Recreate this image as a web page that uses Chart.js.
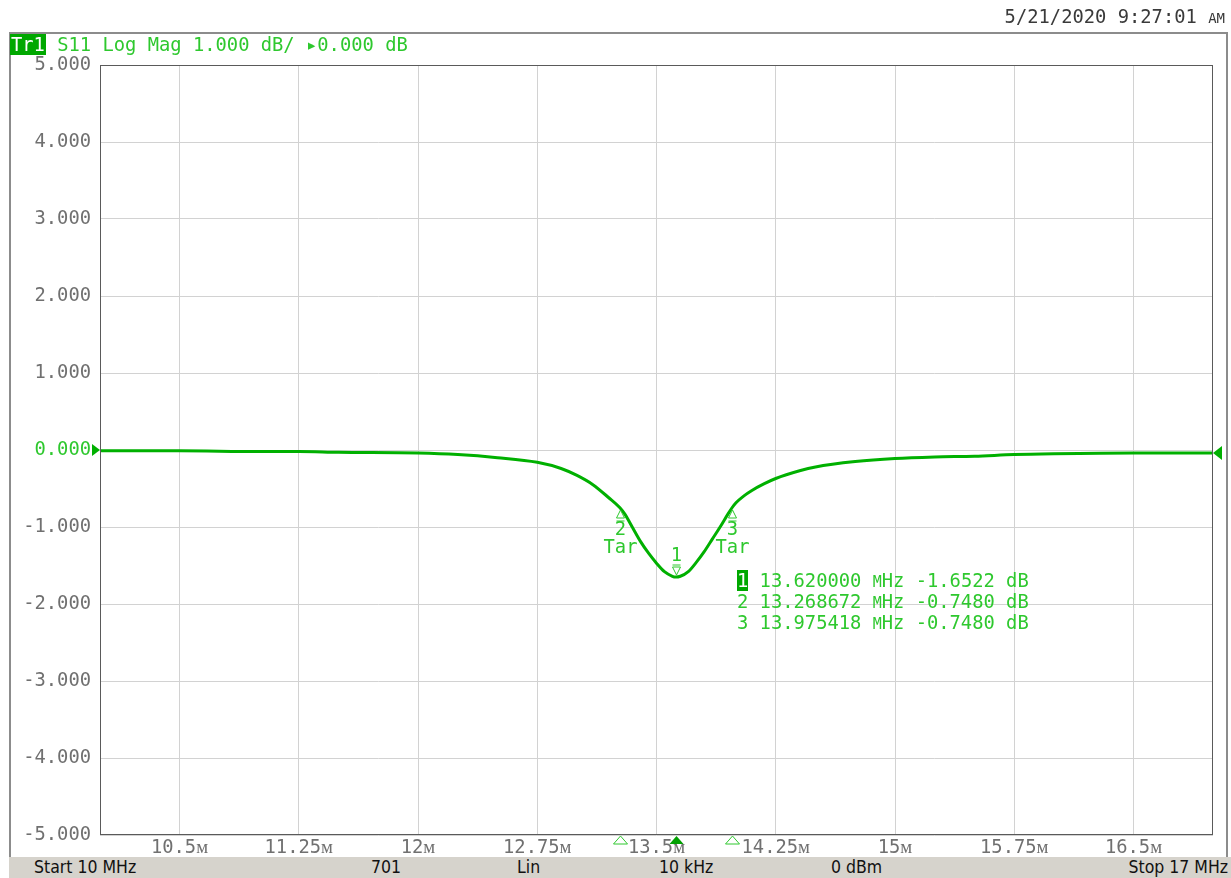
<!DOCTYPE html>
<html>
<head>
<meta charset="utf-8">
<title>S11 Log Mag</title>
<script src="https://cdn.jsdelivr.net/npm/chart.js@4.4.1/dist/chart.umd.min.js"></script>
<style>
    body { margin: 0; width: 1231px; height: 878px; background: #fff; overflow: hidden; position: relative; }
    #frame { position: absolute; left: 9px; top: 32px; width: 1219px; height: 825px; border: 2px solid #8c8c8c; border-bottom: none; box-sizing: border-box; }
    canvas { position: absolute; left: 0; top: 0; }
    .mono { font-family: "DejaVu Sans Mono", monospace; font-size: 18.8px; white-space: pre; position: absolute; line-height: 20px; }
    #date { right: 6px; top: 7px; color: #3a3a3a; }
    #date small { font-size: 14px; }
    #header { left: 10px; top: 35px; color: #2ec82e; }
    #header .hl { padding: 0 1px; }
    .hl { background: #00a800; color: #fff; }
    #table { left: 737px; top: 571px; color: #2ec82e; }
    .sm { font-size: 15px; }
    #status { position: absolute; left: 9px; top: 857px; width: 1222px; height: 21px; background: #d6d3cc; font-family: "DejaVu Sans Condensed", "DejaVu Sans", sans-serif; font-size: 17.5px; color: #111; }
    #status span { position: absolute; top: 0px; }
</style>
</head>
<body>
<div id="frame"></div>
<canvas id="chart" width="1231" height="878"></canvas>
<div id="date" class="mono">5/21/2020 9:27:01 <small>AM</small></div>
<div id="header" class="mono"><span class="hl">Tr1</span> S11 Log Mag 1.000 dB/ ▸0.000 dB</div>
<div id="table" class="mono"><span class="hl">1</span> 13.620000 <span class="sm">M</span>Hz -1.6522 dB
2 13.268672 <span class="sm">M</span>Hz -0.7480 dB
3 13.975418 <span class="sm">M</span>Hz -0.7480 dB</div>
<div id="status">
    <span style="left:25px">Start 10 MHz</span>
    <span style="left:362px">701</span>
    <span style="left:508px">Lin</span>
    <span style="left:650px">10 kHz</span>
    <span style="left:822px">0 dBm</span>
    <span style="right:3px">Stop 17 MHz</span>
</div>
<script>
// Trace data (MHz, dB)
const freqs = [10.0, 10.5, 11.0, 11.25, 11.5, 12.0, 12.25, 12.5, 12.75, 12.9, 13.0, 13.1, 13.2, 13.27, 13.3,
    13.35, 13.4, 13.45, 13.5, 13.55, 13.6, 13.62, 13.65, 13.7, 13.75, 13.8, 13.85, 13.9, 13.95, 13.975,
    14.0, 14.05, 14.1, 14.175, 14.25, 14.4, 14.5, 14.75, 15.0, 15.25, 15.5, 15.75, 16.0, 16.5, 17.0];
const s11 = [-0.01, -0.01, -0.02, -0.02, -0.03, -0.04, -0.06, -0.10, -0.16, -0.24, -0.33, -0.45, -0.62, -0.75, -0.83,
    -1.01, -1.19, -1.34, -1.47, -1.58, -1.64, -1.65, -1.64, -1.58, -1.46, -1.32, -1.16, -1.00, -0.83, -0.75,
    -0.685, -0.595, -0.525, -0.44, -0.37, -0.27, -0.22, -0.15, -0.11, -0.09, -0.08, -0.06, -0.05, -0.04, -0.04];

// Markers
const markerNames = ['1', '2', '3'];
const markerFreqs = [13.62, 13.268672, 13.975418];
const markerVals = [-1.6522, -0.7480, -0.7480];

// Axis ticks
const xTicks = [10.5, 11.25, 12, 12.75, 13.5, 14.25, 15, 15.75, 16.5];
const xTickLabels = ['10.5ᴍ', '11.25ᴍ', '12ᴍ', '12.75ᴍ', '13.5ᴍ', '14.25ᴍ', '15ᴍ', '15.75ᴍ', '16.5ᴍ'];

const TRACE = '#00b000';
const TEXT_GREEN = '#2ec82e';
const MONO = '"DejaVu Sans Mono", monospace';

// Frame, reference arrow and marker glyphs
const markerPlugin = {
    id: 'markers',
    afterDraw(chart) {
        const { ctx, chartArea: a, scales: { x, y } } = chart;
        ctx.save();
        ctx.strokeStyle = '#5a5a5a';
        ctx.lineWidth = 1;
        ctx.strokeRect(a.left + 0.5, a.top + 0.5, a.right - a.left - 1, a.bottom - a.top - 1);

        // reference level arrow (left) and trace end marker (right)
        const y0 = y.getPixelForValue(0);
        ctx.fillStyle = TRACE;
        ctx.beginPath();
        ctx.moveTo(a.left, y0); ctx.lineTo(a.left - 8, y0 - 6); ctx.lineTo(a.left - 8, y0 + 6);
        ctx.closePath(); ctx.fill();
        const yEnd = y.getPixelForValue(s11[s11.length - 1]);
        ctx.beginPath();
        ctx.moveTo(a.right, yEnd); ctx.lineTo(a.right + 9, yEnd - 7); ctx.lineTo(a.right + 9, yEnd + 7);
        ctx.closePath(); ctx.fill();

        ctx.font = '18.8px ' + MONO;
        ctx.textAlign = 'center';
        ctx.textBaseline = 'middle';
        ctx.lineWidth = 1;
        markerNames.forEach((name, i) => {
            const px = Math.round(x.getPixelForValue(markerFreqs[i])) + 0.5;
            const py = Math.round(y.getPixelForValue(markerVals[i]));
            ctx.strokeStyle = TEXT_GREEN;
            ctx.fillStyle = TEXT_GREEN;
            ctx.beginPath();
            if (i === 0) {
                ctx.moveTo(px, py - 2); ctx.lineTo(px - 4, py - 10); ctx.lineTo(px + 4, py - 10); ctx.closePath();
                ctx.moveTo(px - 4, py - 12); ctx.lineTo(px + 4, py - 12);
                ctx.stroke();
                ctx.fillText(name, px, py - 21);
            } else {
                ctx.moveTo(px, py + 2); ctx.lineTo(px - 4, py + 10); ctx.lineTo(px + 4, py + 10); ctx.closePath();
                ctx.moveTo(px - 4, py + 13); ctx.lineTo(px + 4, py + 13);
                ctx.stroke();
                ctx.fillText(name, px, py + 22);
                ctx.fillText('Tar', px, py + 40);
            }
            // marker position on the frequency axis
            ctx.beginPath();
            ctx.moveTo(px, a.bottom + 1); ctx.lineTo(px - 7, a.bottom + 9); ctx.lineTo(px + 7, a.bottom + 9); ctx.closePath();
            if (i === 0) {
                ctx.fillStyle = '#00a000';
                ctx.fill();
            } else {
                ctx.stroke();
            }
        });
        ctx.restore();
    }
};

const ctx = document.getElementById('chart').getContext('2d');
new Chart(ctx, {
    type: 'line',
    data: {
        datasets: [{
            data: freqs.map((f, i) => ({ x: f, y: s11[i] })),
            borderColor: TRACE,
            borderWidth: 3,
            pointRadius: 0,
            cubicInterpolationMode: 'monotone',
            fill: false
        }]
    },
    options: {
        responsive: false,
        animation: false,
        devicePixelRatio: 1,
        layout: { padding: { left: 0, top: 65, right: 18, bottom: 0 } },
        plugins: { legend: { display: false }, tooltip: { enabled: false } },
        scales: {
            x: {
                type: 'linear',
                min: 10,
                max: 17,
                afterBuildTicks: (scale) => { scale.ticks = xTicks.map(v => ({ value: v })); },
                afterFit: (scale) => { scale.height = 43; },
                grid: { color: '#d2d2d2', drawTicks: false },
                border: { display: false },
                ticks: {
                    autoSkip: false,
                    maxRotation: 0,
                    padding: 2,
                    color: '#707070',
                    font: { family: MONO, size: 18.8 },
                    callback: (v, i) => xTickLabels[i]
                }
            },
            y: {
                min: -5,
                max: 5,
                afterFit: (scale) => { scale.width = 100; },
                grid: { color: '#d2d2d2', drawTicks: false },
                border: { display: false },
                ticks: {
                    stepSize: 1,
                    padding: 9,
                    color: (c) => c.tick && c.tick.value === 0 ? TEXT_GREEN : '#707070',
                    font: { family: MONO, size: 18.8 },
                    callback: (v) => (Math.abs(v) < 1e-9 ? 0 : v).toFixed(3)
                }
            }
        }
    },
    plugins: [markerPlugin]
});
</script>
</body>
</html>
